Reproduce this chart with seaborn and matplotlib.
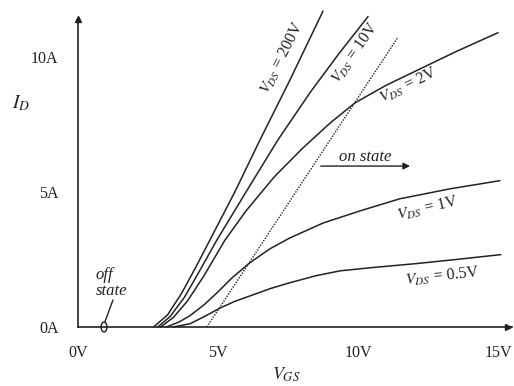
import numpy as np
import pandas as pd
import matplotlib
matplotlib.use('Agg')
import matplotlib.pyplot as plt
from matplotlib.patches import Ellipse
import seaborn as sns

# transfer characteristics (V_GS in volts, I_D in amps)
vgs_200 = [2.7, 3.2, 3.7, 4.2, 4.71, 5.6, 6.5, 7.57, 8.75]
id_200 = [0, 0.45, 1.25, 2.2, 3.22, 5.0, 6.93, 9.15, 11.7]

vgs_10 = [2.85, 3.3, 3.8, 4.3, 4.96, 6.0, 7.14, 8.3, 9.3, 10.36]
id_10 = [0, 0.4, 1.1, 2.0, 3.22, 5.0, 6.93, 8.7, 10.1, 11.5]

vgs_2 = [2.95, 3.4, 3.9, 4.5, 5.25, 6.0, 7.0, 8.0, 9.0, 9.89, 11.0, 12.0, 13.5, 15.0]
id_2 = [0, 0.35, 0.95, 1.9, 3.22, 4.3, 5.55, 6.6, 7.55, 8.3, 8.95, 9.45, 10.2, 10.9]

vgs_1 = [3.15, 3.6, 4.0, 4.5, 5.0, 5.5, 6.14, 6.86, 7.57, 8.75, 10.07, 11.5, 13.3, 15.07]
id_1 = [0, 0.18, 0.42, 0.82, 1.3, 1.82, 2.38, 2.9, 3.3, 3.85, 4.3, 4.75, 5.12, 5.42]

vgs_05 = [3.4, 4.0, 4.5, 5.07, 5.6, 6.14, 6.86, 7.5, 8.5, 9.36, 10.5, 12.1, 13.5, 15.1]
id_05 = [0, 0.12, 0.38, 0.7, 0.95, 1.15, 1.42, 1.62, 1.9, 2.08, 2.2, 2.35, 2.5, 2.68]

# boundary between saturation and on state
boundary_vgs = [4.6, 11.43]
boundary_id = [0, 10.74]

x_ticks = [0, 5, 10, 15]
x_tick_labels = ['0V', '5V', '10V', '15V']
y_ticks = [0, 5, 10]
y_tick_labels = ['0A', '5A', '10A']

curves = {'200V': (vgs_200, id_200), '10V': (vgs_10, id_10), '2V': (vgs_2, id_2),
          '1V': (vgs_1, id_1), '0.5V': (vgs_05, id_05)}
frames = []
for name, (v, i) in curves.items():
    frames.append(pd.DataFrame({'VGS': v, 'ID': i, 'VDS': name}))
df = pd.concat(frames, ignore_index=True)

sns.set_style("white")
plt.rcParams['font.family'] = ['Liberation Serif', 'DejaVu Serif']
plt.rcParams['mathtext.fontset'] = 'stix'

ink = '#222222'
fig = plt.figure(figsize=(5.14, 3.86), dpi=100)
ax = fig.add_axes([78 / 514, 59 / 386, 434 / 514, 324 / 386])

sns.lineplot(data=df, x='VGS', y='ID', hue='VDS', estimator=None, sort=False,
             palette=[ink] * 5, linewidth=1.1, legend=False, ax=ax, clip_on=False)
sns.lineplot(x=boundary_vgs, y=boundary_id, color=ink, linestyle=(0, (1, 1)),
             linewidth=1.0, ax=ax)

ax.set_xlim(0, 15.5)
ax.set_ylim(0, 12)
ax.set_xticks(x_ticks)
ax.set_xticklabels(x_tick_labels)
ax.set_yticks(y_ticks)
ax.set_yticklabels(y_tick_labels)
ax.tick_params(axis='x', direction='inout', length=6, width=1, pad=10,
               labelsize=11.5, colors=ink)
ax.tick_params(axis='y', direction='out', length=5, width=1, pad=9,
               labelsize=11.5, colors=ink)

for side in ['top', 'right']:
    ax.spines[side].set_visible(False)
for side in ['left', 'bottom']:
    ax.spines[side].set_color(ink)
    ax.spines[side].set_linewidth(1.2)
ax.spines['left'].set_bounds(0, 11.4)
ax.plot(0, 11.4, '^', color=ink, ms=5, clip_on=False)
ax.plot(15.35, 0, '>', color=ink, ms=5, clip_on=False)

ax.set_xlabel(r'$V_{GS}$', fontsize=13, color=ink)
ax.set_ylabel(r'$I_D$', fontsize=14, color=ink, rotation=0)
ax.xaxis.set_label_coords(0.48, -0.118)
ax.yaxis.set_label_coords(-0.131, 0.66)

# curve labels
lab = dict(fontsize=11.5, color=ink, ha='center', va='center', rotation_mode='anchor')
ax.text(7.29, 9.96, r'$V_{DS}$ = 200V', rotation=63, **lab)
ax.text(9.9, 10.15, r'$V_{DS}$ = 10V', rotation=55, **lab)
ax.text(11.8, 8.93, r'$V_{DS}$ = 2V', rotation=26, **lab)
ax.text(12.5, 4.4, r'$V_{DS}$ = 1V', rotation=13, **lab)
ax.text(13.0, 1.85, r'$V_{DS}$ = 0.5V', rotation=6, **lab)

# on state arrow
ax.annotate('', xy=(11.96, 5.96), xytext=(8.57, 5.96),
            arrowprops=dict(arrowstyle='-|>', color=ink, lw=1, mutation_scale=10))
ax.text(10.25, 6.3, 'on state', fontsize=12, style='italic', color=ink,
        ha='center', va='center')

# off state marker
ax.add_patch(Ellipse((0.93, 0), 0.21, 0.37, fill=False, edgecolor=ink, lw=1,
                     clip_on=False))
ax.plot([0.96, 1.25], [0.19, 1.0], color=ink, lw=1)
ax.text(0.62, 1.63, 'off\nstate', fontsize=12, style='italic', color=ink,
        ha='left', va='center', linespacing=0.95)

fig.savefig('out.png', dpi=100)
